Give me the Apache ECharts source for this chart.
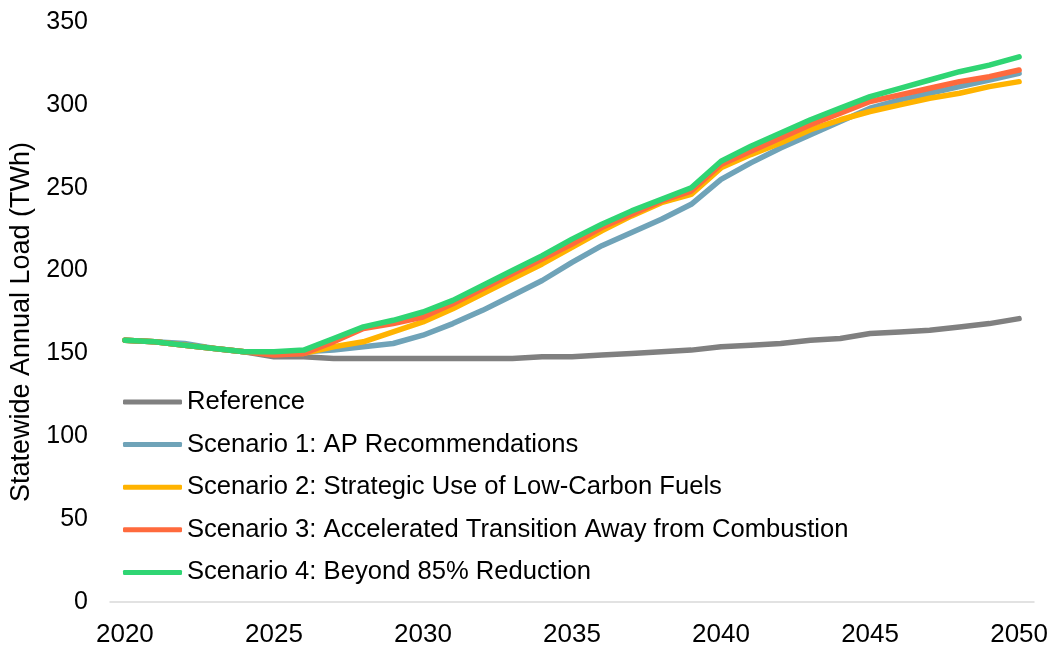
<!DOCTYPE html>
<html>
<head>
<meta charset="utf-8">
<script src="https://cdn.jsdelivr.net/npm/echarts@6/dist/echarts.min.js"></script>
<style>
  html, body { margin: 0; padding: 0; background: #fff; }
  #chart { width: 1055px; height: 648px; }
</style>
</head>
<body>
<div id="chart"></div>
<script>
const years = ['2020', '2021', '2022', '2023', '2024', '2025', '2026', '2027', '2028', '2029', '2030',
  '2031', '2032', '2033', '2034', '2035', '2036', '2037', '2038', '2039', '2040',
  '2041', '2042', '2043', '2044', '2045', '2046', '2047', '2048', '2049', '2050'];

const reference = [158, 157, 155, 153, 151, 148, 148, 147, 147, 147, 147,
  147, 147, 147, 148, 148, 149, 150, 151, 152, 154,
  155, 156, 158, 159, 162, 163, 164, 166, 168, 171];
const scenario1 = [158, 157, 156, 153, 151, 151, 151, 152, 154, 156, 161,
  168, 176, 185, 194, 205, 215, 223, 231, 240, 255,
  265, 274, 282, 290, 298, 303, 307, 311, 315, 319];
const scenario2 = [158, 157, 155, 153, 151, 150, 150, 154, 157, 163, 169,
  177, 186, 195, 204, 214, 224, 233, 241, 246, 262,
  270, 277, 285, 291, 296, 300, 304, 307, 311, 314];
const scenario3 = [158, 157, 155, 153, 151, 149, 150, 157, 165, 168, 172,
  180, 189, 198, 207, 216, 226, 234, 242, 248, 264,
  272, 280, 288, 295, 302, 306, 310, 314, 317, 321];
const scenario4 = [158, 157, 155, 153, 151, 151, 152, 159, 166, 170, 175,
  182, 191, 200, 209, 219, 228, 236, 243, 250, 266,
  275, 283, 291, 298, 305, 310, 315, 320, 324, 329];

const seriesNames = [
  'Reference',
  'Scenario 1: AP Recommendations',
  'Scenario 2: Strategic Use of Low-Carbon Fuels',
  'Scenario 3: Accelerated Transition Away from Combustion',
  'Scenario 4: Beyond 85% Reduction'
];
const seriesData = [reference, scenario1, scenario2, scenario3, scenario4];
const colors = ['#808080', '#6fa3b8', '#ffb300', '#ff6a3d', '#2fd573'];

const font = '"Liberation Sans", Arial, sans-serif';

const myChart = echarts.init(document.getElementById('chart'));

const option = {
  animation: false,
  color: colors,
  grid: {
    left: 110,
    right: 21,
    top: 22,
    bottom: 46,
    containLabel: false
  },
  legend: {
    orient: 'vertical',
    left: 118,
    top: 384,
    icon: 'roundRect',
    itemWidth: 59,
    itemHeight: 5,
    itemGap: 16.6,
    textStyle: {
      fontFamily: font,
      fontSize: 25.6,
      color: '#000'
    },
    data: seriesNames
  },
  xAxis: {
    type: 'category',
    boundaryGap: true,
    data: years,
    axisLine: { lineStyle: { color: '#d9d9d9', width: 1.5 } },
    axisTick: { show: false },
    axisLabel: {
      interval: 4,
      margin: 20,
      color: '#000',
      fontFamily: font,
      fontSize: 26
    }
  },
  yAxis: {
    type: 'value',
    min: 0,
    max: 350,
    interval: 50,
    name: 'Statewide Annual Load (TWh)',
    nameLocation: 'middle',
    nameGap: 66,
    nameTextStyle: {
      fontFamily: font,
      fontSize: 27,
      color: '#000',
      padding: [0, 20, 0, 0]
    },
    splitLine: { show: false },
    axisLine: { show: false },
    axisTick: { show: false },
    axisLabel: {
      margin: 22,
      color: '#000',
      fontFamily: font,
      fontSize: 25
    }
  },
  series: seriesNames.map((name, i) => ({
    name: name,
    type: 'line',
    data: seriesData[i],
    showSymbol: false,
    symbol: 'none',
    smooth: false,
    lineStyle: { width: 5.5, color: colors[i], cap: 'round', join: 'round' },
    itemStyle: { color: colors[i] },
    z: 2 + i
  }))
};

myChart.setOption(option);
</script>
</body>
</html>
